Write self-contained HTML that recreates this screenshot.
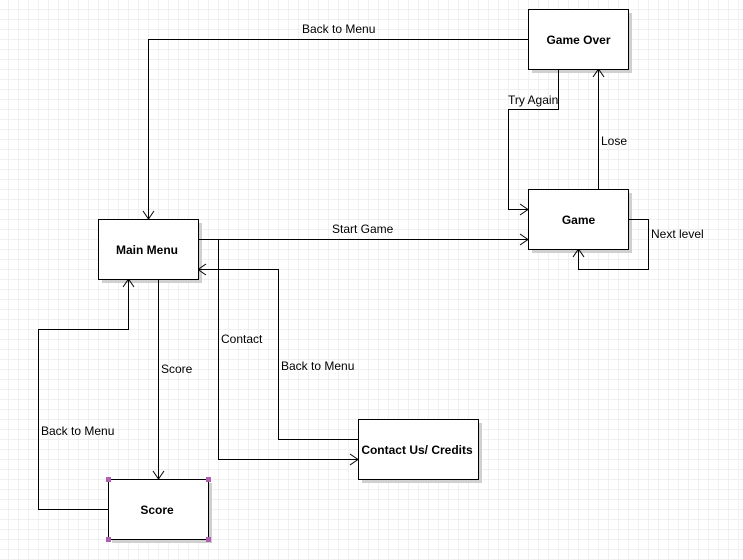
<!DOCTYPE html>
<html><head><style>
html,body{margin:0;padding:0;width:743px;height:560px;overflow:hidden;background:#fff;}
svg{display:block;}
text{font-family:"Liberation Sans",sans-serif;font-size:12px;fill:#000;}
.b{font-weight:bold;}
</style></head><body>
<svg width="743" height="560" xmlns="http://www.w3.org/2000/svg">
<defs>
<pattern id="g" x="8" y="9" width="10" height="10" patternUnits="userSpaceOnUse">
<path d="M0 0H10M0 0V10" stroke="#ececec" stroke-width="1.5" fill="none"/>
</pattern>
</defs>
<rect width="743" height="560" fill="url(#g)"/>
<g fill="#d0d0d0">
<rect x="532" y="13" width="100" height="60"/>
<rect x="532" y="193" width="100" height="60"/>
<rect x="102" y="223" width="100" height="60"/>
<rect x="112" y="483" width="100" height="60"/>
<rect x="362" y="423" width="120" height="60"/>
</g>
<g fill="none" stroke="#000" stroke-width="1">
<path d="M528.5 39.5H148.5V219"/><path d="M143 211L148.5 219L154 211"/>
<path d="M558.5 69V109.5H508.5V209.5H528"/><path d="M520 204L528 209.5L520 215"/>
<path d="M598.5 189V69"/><path d="M593 77L598.5 69L604 77"/>
<path d="M628 219.5H648.5V269.5H578.5V249"/><path d="M573 257L578.5 249L584 257"/>
<path d="M198 239.5H528"/><path d="M520 234L528 239.5L520 245"/>
<path d="M218.5 239.5V459.5H358"/><path d="M350 454L358 459.5L350 465"/>
<path d="M358 439.5H278.5V269.5H198"/><path d="M206 264L198 269.5L206 275"/>
<path d="M158.5 279V479"/><path d="M153 471L158.5 479L164 471"/>
<path d="M108 509.5H38.5V329.5H128.5V279"/><path d="M123 287L128.5 279L134 287"/>
</g>
<g fill="#fff" stroke="#000" stroke-width="1">
<rect x="528.5" y="9.5" width="100" height="60"/>
<rect x="528.5" y="189.5" width="100" height="60"/>
<rect x="98.5" y="219.5" width="100" height="60"/>
<rect x="108.5" y="479.5" width="100" height="60"/>
<rect x="358.5" y="419.5" width="120" height="60"/>
</g>
<g fill="#b060b0">
<rect x="106" y="477" width="5" height="5"/><rect x="206" y="477" width="5" height="5"/>
<rect x="106" y="537" width="5" height="5"/><rect x="206" y="537" width="5" height="5"/>
</g>
<text class="b" x="578.5" y="44" text-anchor="middle">Game Over</text>
<text class="b" x="578.5" y="224" text-anchor="middle">Game</text>
<text class="b" x="147" y="254" text-anchor="middle">Main Menu</text>
<text class="b" x="157" y="514" text-anchor="middle">Score</text>
<text class="b" x="417" y="454" text-anchor="middle">Contact Us/ Credits</text>
<text x="302" y="33">Back to Menu</text>
<text x="332" y="233">Start Game</text>
<text x="221" y="343">Contact</text>
<text x="281" y="370">Back to Menu</text>
<text x="161" y="373">Score</text>
<text x="41" y="435">Back to Menu</text>
<text x="508" y="104">Try Again</text>
<text x="601" y="145">Lose</text>
<text x="651" y="238">Next level</text>
</svg>
</body></html>
